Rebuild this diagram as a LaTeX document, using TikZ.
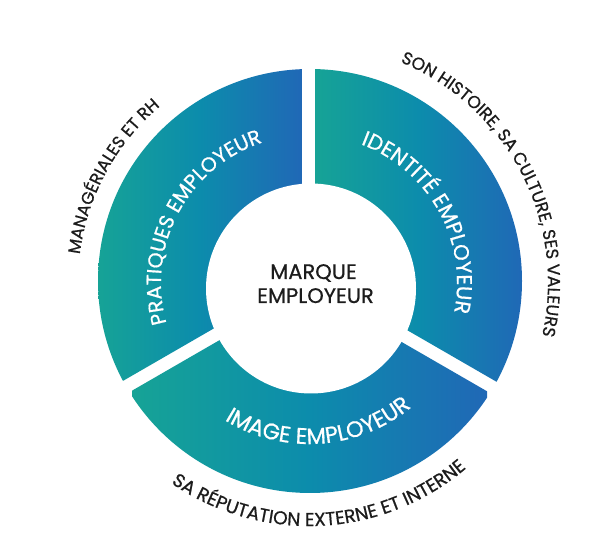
\documentclass[tikz,border=0pt]{standalone}
\usepackage{fontspec}
\setmainfont{Poppins}
\newfontfamily\popm[FakeBold=0.7]{Poppins}
\usetikzlibrary{decorations.text}
\definecolor{cteal}{RGB}{22,163,150}
\definecolor{cmid}{RGB}{12,140,172}
\definecolor{cblue}{RGB}{32,104,182}
\definecolor{ctext}{RGB}{28,28,28}
\newcommand\segfont{\popm\fontsize{20.5}{20.5}\selectfont\color{white}}
\newcommand\idfont{\popm\fontsize{21.3}{21.3}\selectfont\color{white}}
\newcommand\imgfont{\popm\fontsize{22.5}{22.5}\selectfont\color{white}}
\newcommand\outfonta{\popm\fontsize{17}{17}\selectfont\color{ctext}}
\newcommand\outfontb{\popm\fontsize{17.3}{17.3}\selectfont\color{ctext}}
\newcommand\outfontc{\popm\fontsize{18.6}{18.6}\selectfont\color{ctext}}
\newcommand\midfont{\popm\fontsize{21}{21}\selectfont\color{ctext}}
\tikzset{
  segshade/.style={left color=cteal, right color=cblue, middle color=cmid},
  arctext/.style={decorate, decoration={text along path, text align=center, text={#1}}},
}
\begin{document}
\begin{tikzpicture}[x=1pt,y=1pt]
\useasboundingbox (0,0) rectangle (610,548);
\fill[white] (0,0) rectangle (610,548);
\begin{scope}[shift={(309,267)}]
  % Pratiques employeur (90..210)
  \begin{scope}
    \clip (180:6.5) -- ([shift={(180:6.5)}]90:400) -- (150:800) -- ([shift={(120:6.5)}]210:400) -- (120:6.5) -- cycle;
    \clip (1,0) circle[radius=212];
    \shade[segshade] (-212,-300) rectangle (-7,300);
  \end{scope}
  % Identite employeur (-30..90)
  \begin{scope}
    \clip (60:6.5) -- ([shift={(60:6.5)}]-30:400) -- (30:800) -- ([shift={(0:6.5)}]90:400) -- (0:6.5) -- cycle;
    \clip (1,0) circle[radius=212];
    \shade[segshade] (6,-300) rectangle (214,300);
  \end{scope}
  % Image employeur (210..330)
  \begin{scope}
    \clip (300:6.5) -- ([shift={(300:6.5)}]210:400) -- (270:800) -- ([shift={(240:6.5)}]330:400) -- (240:6.5) -- cycle;
    \clip (1,0) circle[radius=212];
    \shade[segshade] (-177,-300) rectangle (178,300);
  \end{scope}
  \fill[white] (2,-7.5) circle[radius=105];
  \begin{scope}[shift={(0,-2)}]
    \path[arctext={|\segfont|PRATIQUES EMPLOYEUR}] (212:148) arc[start angle=212, end angle=92, radius=148];
    \path[arctext={|\idfont|IDENTITÉ EMPLOYEUR}] (89:148) arc[start angle=89, end angle=-31, radius=148];
    \path[arctext={|\imgfont|IMAGE EMPLOYEUR}] (214:161) arc[start angle=214, end angle=334, radius=161];
    \path[arctext={|\outfonta|MANAGÉRIALES ET RH}] (211.5:231) arc[start angle=211.5, end angle=91.5, radius=231];
    \path[arctext={|\outfontb|SON HISTOIRE, SA CULTURE, SES VALEURS}] (92.4:239) arc[start angle=92.4, end angle=-37.6, radius=239];
    \path[arctext={|\outfontc|SA RÉPUTATION EXTERNE ET INTERNE}] (207.9:243) arc[start angle=207.9, end angle=337.9, radius=243];
  \end{scope}
\end{scope}
\node[anchor=base, inner sep=0pt, font=\midfont] (mq1) at (313.5,269) {MARQUE};
\node[anchor=base, inner sep=0pt, font=\midfont] (mq2) at (315.5,245) {EMPLOYEUR};
\end{tikzpicture}
\end{document}
